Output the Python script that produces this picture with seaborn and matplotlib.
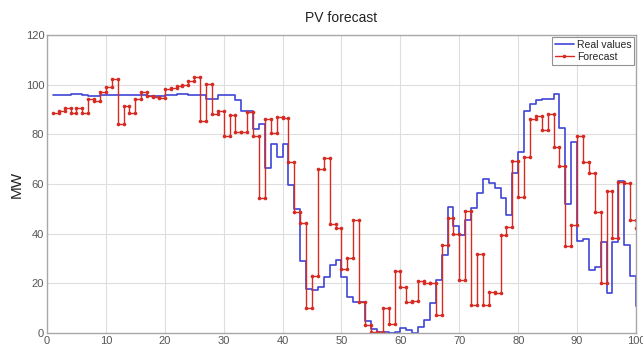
import numpy as np
import pandas as pd
import matplotlib
matplotlib.use("Agg")
import matplotlib.pyplot as plt
import seaborn as sns

# hourly values, step i is held from hour i to hour i+1
hours = np.arange(1, 101)

real_values = [
    95.9, 95.9, 96.0, 96.1, 96.1, 95.9, 95.5, 95.6, 95.8, 95.9,
    95.9, 96.0, 96.0, 95.9, 95.9, 95.8, 95.6, 95.5, 95.5, 95.8,
    96.0, 96.2, 96.2, 96.0, 95.9, 95.9, 94.3, 94.3, 95.9, 95.9,
    95.9, 93.9, 89.5, 89.5, 82.3, 84.3, 66.5, 76.0, 71.0, 76.3,
    59.6, 49.8, 29.0, 17.7, 17.5, 18.5, 22.7, 27.4, 29.5, 22.7,
    14.5, 12.3, 12.3, 4.8, 1.8, 0.4, 0.2, 0.0, 0.5, 2.0,
    1.3, 0.0, 2.6, 5.3, 12.2, 21.2, 31.6, 50.9, 42.9, 39.6,
    45.6, 50.3, 56.3, 62.2, 60.4, 58.3, 54.3, 47.5, 64.4, 73.0,
    89.3, 92.4, 94.0, 94.2, 94.4, 96.3, 82.4, 52.0, 77.0, 37.0,
    38.0, 25.5, 26.5, 36.5, 16.0, 36.5, 61.2, 35.3, 23.0, 10.8,
]

forecast = [
    88.5, 89.5, 90.5, 88.5, 90.5, 88.5, 94.2, 93.5, 97.2, 99.0,
    102.4, 84.0, 91.6, 88.6, 94.2, 97.2, 95.6, 95.2, 94.6, 98.3,
    98.8, 99.4, 100.0, 101.6, 103.2, 85.5, 100.2, 88.2, 89.2, 79.3,
    87.7, 81.0, 80.8, 89.0, 79.2, 54.4, 86.0, 80.4, 86.8, 86.4,
    69.0, 48.6, 44.2, 10.2, 22.8, 66.0, 70.3, 43.8, 42.3, 25.6,
    30.2, 45.6, 12.6, 3.3, 0.6, 0.4, 10.0, 3.5, 24.8, 18.5,
    12.6, 13.0, 21.0, 20.0, 20.0, 7.4, 35.4, 46.3, 39.8, 21.5,
    49.1, 11.2, 32.0, 11.2, 16.4, 16.0, 39.4, 42.5, 69.2, 54.6,
    71.0, 86.1, 87.5, 81.8, 88.2, 75.0, 67.3, 35.0, 43.3, 79.4,
    68.9, 64.4, 48.9, 20.3, 57.3, 38.3, 60.8, 60.5, 45.5, 42.2,
]


def stairs(x, y):
    # same vertices as matlab [xx, yy] = stairs(x, y)
    return np.repeat(x, 2)[1:], np.repeat(np.asarray(y, float), 2)[:-1]


rx, ry = stairs(hours, real_values)
fx, fy = stairs(hours, forecast)
real_df = pd.DataFrame({"hour": rx, "MW": ry})
fc_df = pd.DataFrame({"hour": fx, "MW": fy})

sns.set_theme(style="whitegrid")
plt.rcParams["font.family"] = ["Liberation Sans", "DejaVu Sans"]

fig = plt.figure(figsize=(6.43, 3.45), dpi=100)
ax = fig.add_axes([0.0731, 0.0348, 0.9160, 0.8638])

sns.lineplot(data=real_df, x="hour", y="MW", sort=False, estimator=None,
             color="#3f45d6", linewidth=1.2, label="Real values", ax=ax)
sns.lineplot(data=fc_df, x="hour", y="MW", sort=False, estimator=None,
             color="#d62a22", linewidth=1.0, marker="o", markersize=2.6,
             markeredgewidth=0, label="Forecast", ax=ax)

ax.set_xlim(0, 100)
ax.set_ylim(0, 120)
ax.set_xticks(range(0, 101, 10))
ax.set_yticks(range(0, 121, 20))
ax.grid(True, color="#dedede", linewidth=0.8)
ax.tick_params(axis="both", labelsize=8, colors="#555555", direction="in",
               length=3, pad=2)
for s in ax.spines.values():
    s.set_color("#a8a8a8")
    s.set_linewidth(1.0)

ax.set_title("PV forecast", fontsize=10, color="#222222", pad=9)
ax.set_ylabel("MW", fontsize=11, color="#222222", labelpad=1)
ax.set_xlabel("Hours", fontsize=10, color="#222222", labelpad=0)

leg = ax.legend(loc="upper right", fontsize=7.5, frameon=True, fancybox=False,
                borderpad=0.3, handlelength=1.8, handletextpad=0.3,
                labelspacing=0.2, borderaxespad=0.15)
leg.get_frame().set_edgecolor("#777777")
leg.get_frame().set_linewidth(0.8)

fig.savefig("out.png", dpi=100)
